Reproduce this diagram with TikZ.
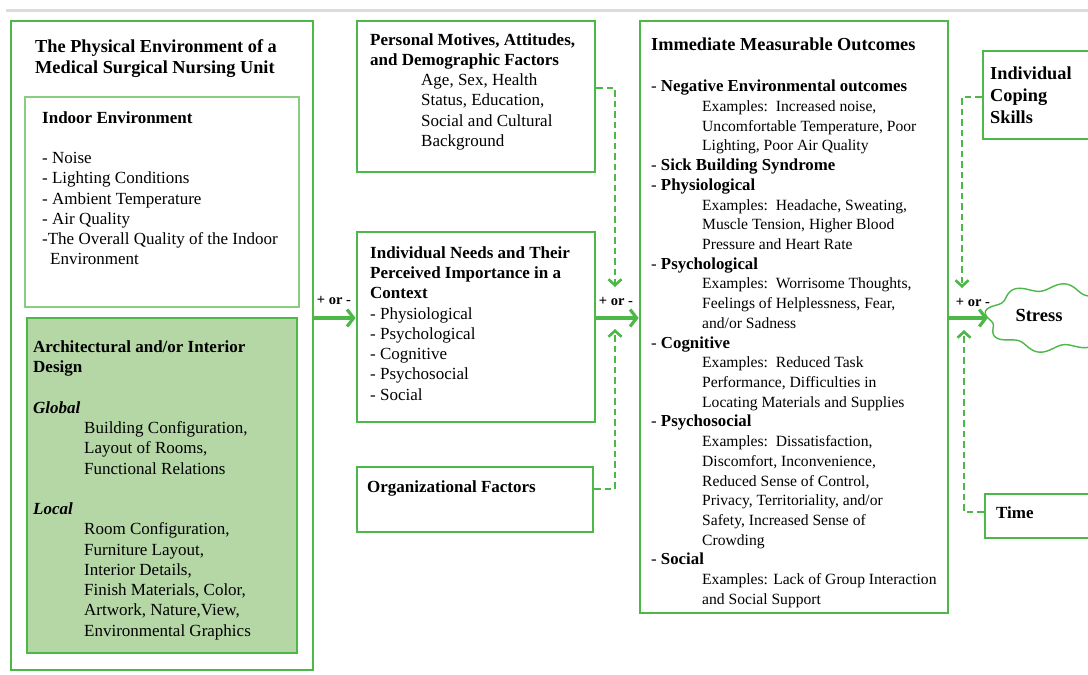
\documentclass[tikz,border=0pt]{standalone}
\usepackage{fontspec}
\setmainfont{Liberation Serif}
\usetikzlibrary{arrows.meta,shapes.geometric}

\definecolor{gline}{RGB}{76,184,72}
\definecolor{glight}{RGB}{138,204,132}
\definecolor{gfill}{RGB}{181,215,166}
\definecolor{rulegray}{RGB}{220,220,220}

% left-aligned block of lines, anchored at the baseline of its first line
\newcommand\txtlines[1]{\begin{tabular}[t]{@{}l@{}}#1\end{tabular}}
\newcommand\exind{\hspace*{51pt}}
% indented example line, set slightly smaller
\newcommand\exl{\exind\fontsize{15.6}{19.72}\selectfont}

\tikzset{
  bigbox/.style={draw=gline, line width=2.8pt, rectangle, inner sep=0pt},
  subbox/.style={draw=glight, line width=1.3pt, rectangle, inner sep=0pt},
  txt/.style={anchor=base west, inner sep=0pt, font=\fontsize{17}{20.25}\selectfont},
  headtxt/.style={anchor=base west, inner sep=0pt, font=\fontsize{18.3}{21.5}\selectfont\bfseries},
  outtxt/.style={anchor=base west, inner sep=0pt, font=\fontsize{16.8}{19.72}\selectfont},
  signlbl/.style={anchor=base, inner sep=0pt, font=\fontsize{14.5}{16}\selectfont\bfseries},
  solidarr/.style={draw=gline, line width=3.2pt, -{Straight Barb[length=6.5pt,width=17pt]}},
  dasharr/.style={draw=gline, line width=2.6pt, dash pattern=on 6.5pt off 4pt,
    -{Straight Barb[length=6pt,width=13pt]}},
  cloudline/.style={draw=gline, line width=1.4pt},
}

\begin{document}
\begin{tikzpicture}[x=1pt, y=-1pt]
\useasboundingbox (0,0) rectangle (1088,675);
\fill[white] (0,0) rectangle (1088,675);
\fill[rulegray] (6,8.5) rectangle (1088,12);

% ---- physical environment column
\node[bigbox, minimum width=302pt, minimum height=649pt] (outer) at (162,345.5) {};
\node[subbox, minimum width=274pt, minimum height=210pt] (indoor) at (162,202) {};
\node[subbox, draw=gline, fill=gfill, minimum width=270pt, minimum height=335pt] (arch) at (162,485.5) {};

\node[headtxt] (ttl) at (35,52) {\txtlines{The Physical Environment of a\\Medical Surgical Nursing Unit}};
\node[txt] (indoortxt) at (42,123) {\txtlines{\textbf{Indoor Environment}\\ \\
  - Noise\\- Lighting Conditions\\- Ambient Temperature\\- Air Quality\\
  -The Overall Quality of the Indoor\\\hspace*{8pt}Environment}};
\node[txt] (archtxt) at (33,352.7) {\txtlines{\textbf{Architectural and/or Interior}\\\textbf{Design}\\ \\
  \textbf{\textit{Global}}\\
  \exind Building Configuration,\\\exind Layout of Rooms,\\\exind Functional Relations\\ \\
  \textbf{\textit{Local}}\\
  \exind Room Configuration,\\\exind Furniture Layout,\\\exind Interior Details,\\
  \exind Finish Materials, Color,\\\exind Artwork, Nature,View,\\\exind Environmental Graphics}};

% ---- middle column
\node[bigbox, minimum width=238pt, minimum height=151pt] (pm) at (476,96.5) {};
\node[bigbox, minimum width=238pt, minimum height=190pt] (needs) at (476,327) {};
\node[bigbox, minimum width=236pt, minimum height=65pt] (org) at (475,499.5) {};

\node[txt] (pmtxt) at (370,45) {\txtlines{\textbf{Personal Motives, Attitudes,}\\\textbf{and Demographic Factors}\\
  \exind Age, Sex, Health\\\exind Status, Education,\\\exind Social and Cultural\\\exind Background}};
\node[txt] (needstxt) at (370,258.3) {\txtlines{\textbf{Individual Needs and Their}\\
  \textbf{Perceived Importance in a}\\\textbf{Context}\\
  - Physiological\\- Psychological\\- Cognitive\\- Psychosocial\\- Social}};
\node[txt, font=\fontsize{17}{20.25}\selectfont\bfseries] (orgtxt) at (367,492.7) {Organizational Factors};

% ---- outcomes column
\node[bigbox, minimum width=308pt, minimum height=592pt] (imm) at (794,317) {};
\node[headtxt] (immttl) at (651,50) {Immediate Measurable Outcomes};
\node[outtxt] (immtxt) at (651,91.7) {\txtlines{
  - \textbf{Negative Environmental outcomes}\\
  \exl Examples:\ \ Increased noise,\\
  \exl Uncomfortable Temperature, Poor\\
  \exl Lighting, Poor Air Quality\\
  - \textbf{Sick Building Syndrome}\\
  - \textbf{Physiological}\\
  \exl Examples:\ \ Headache, Sweating,\\
  \exl Muscle Tension, Higher Blood\\
  \exl Pressure and Heart Rate\\
  - \textbf{Psychological}\\
  \exl Examples:\ \ Worrisome Thoughts,\\
  \exl Feelings of Helplessness, Fear,\\
  \exl and/or Sadness\\
  - \textbf{Cognitive}\\
  \exl Examples:\ \ Reduced Task\\
  \exl Performance, Difficulties in\\
  \exl Locating Materials and Supplies\\
  - \textbf{Psychosocial}\\
  \exl Examples:\ \ Dissatisfaction,\\
  \exl Discomfort, Inconvenience,\\
  \exl Reduced Sense of Control,\\
  \exl Privacy, Territoriality, and/or\\
  \exl Safety, Increased Sense of\\
  \exl Crowding\\
  - \textbf{Social}\\
  \exl Examples: Lack of Group Interaction\\
  \exl and Social Support}};

% ---- right column
\node[bigbox, minimum width=127pt, minimum height=88pt] (cope) at (1046.5,95) {};
\node[headtxt, font=\fontsize{18.3}{22.2}\selectfont\bfseries] (copetxt) at (990,79) {\txtlines{Individual\\Coping\\Skills}};
\node[bigbox, minimum width=125pt, minimum height=44pt] (time) at (1047.5,516) {};
\node[txt, font=\fontsize{17}{20}\selectfont\bfseries] (timetxt) at (996,518.3) {Time};

% stress cloud: a wavy ellipse outline around an ellipse node used as the target
\node[ellipse, inner sep=0pt, minimum width=128pt, minimum height=62pt] (cloud) at (1052,318) {};
\draw[cloudline] plot[domain=0:357.5, samples=144, smooth cycle]
  ({1052+(64+3.8*sin(8*\x))*cos(\x)}, {318+(31+3.8*sin(8*\x))*sin(\x)});
\node[font=\fontsize{18.5}{20}\selectfont\bfseries, inner sep=0pt, anchor=base] (stress) at (1039,321.7) {Stress};

% ---- solid influence arrows
\coordinate (axis) at ([yshift=9pt]needs.west);
\draw[solidarr] (axis -| outer.east) -- (axis);
\draw[solidarr] (axis -| needs.east) -- (axis -| imm.west);
\draw[solidarr] (axis -| imm.east) -- (cloud.west);
\node[signlbl] (s1) at (334,304) {+ or -};
\node[signlbl] (s2) at (616,305.5) {+ or -};
\node[signlbl] (s3) at (973,306) {+ or -};

% ---- dashed moderating arrows
\coordinate (pmout) at ([yshift=8.5pt]pm.east);
\coordinate (dropA) at (615,287);
\draw[dasharr] (pmout) -| (dropA);
\coordinate (orgout) at ([yshift=10.5pt]org.east);
\coordinate (riseA) at (615,329);
\draw[dasharr] (orgout) -| (riseA);
\coordinate (copeout) at ([yshift=-2pt]cope.west);
\coordinate (dropB) at (962,288);
\draw[dasharr] (copeout) -| (dropB);
\coordinate (timeout) at ([yshift=4pt]time.west);
\coordinate (riseB) at (964,330);
\draw[dasharr] (timeout) -| (riseB);
\end{tikzpicture}
\end{document}
